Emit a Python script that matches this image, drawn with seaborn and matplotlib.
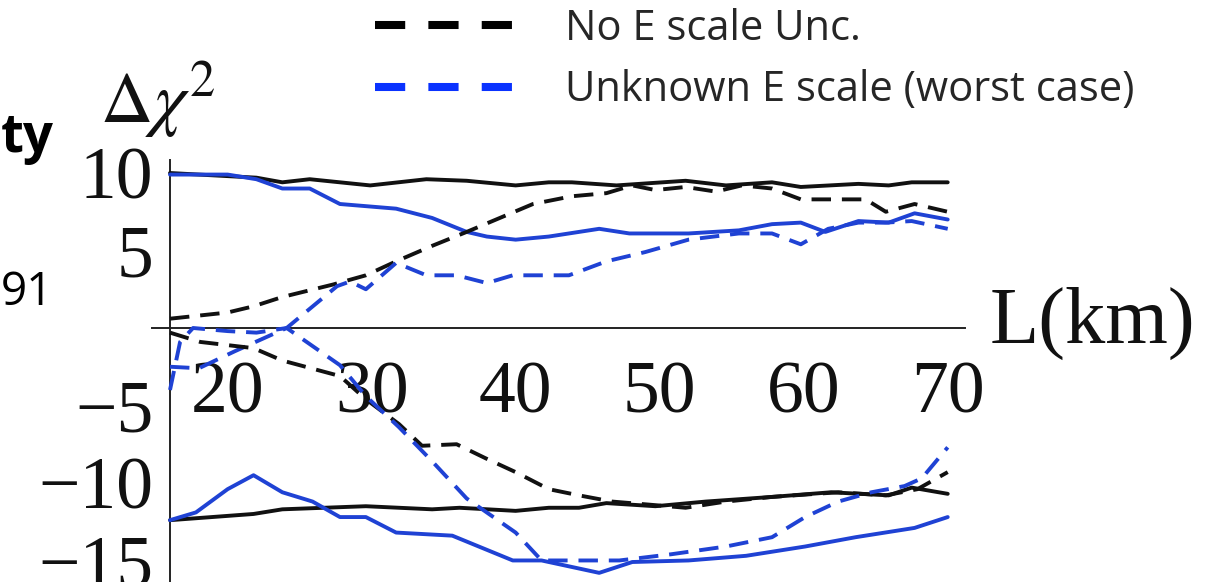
import matplotlib
matplotlib.use("Agg")
import matplotlib.pyplot as plt
from matplotlib.lines import Line2D
from matplotlib.ticker import MultipleLocator, FixedLocator
import seaborn as sns
import pandas as pd

# ---------------- data ----------------
L_up_black_solid = [16, 20, 22, 23.8, 25.7, 29.9, 33.8, 36.6, 40, 42.3, 43.9, 47, 51.8, 54.6, 57.8, 59.8, 63.8, 65.9, 67.5, 70]
V_up_black_solid = [10.0, 9.8, 9.7, 9.4, 9.6, 9.2, 9.6, 9.5, 9.2, 9.4, 9.4, 9.2, 9.5, 9.2, 9.4, 9.1, 9.3, 9.2, 9.4, 9.4]

L_up_blue_solid = [16, 20, 22, 23.8, 25.7, 27.8, 31.7, 34.2, 36.6, 38, 40, 42.3, 45.8, 47.9, 52, 55.5, 57.8, 59.8, 61.5, 63.8, 65.9, 67.7, 70]
V_up_blue_solid = [9.9, 9.9, 9.6, 9.0, 9.0, 8.0, 7.7, 7.1, 6.2, 5.9, 5.7, 5.9, 6.4, 6.1, 6.1, 6.3, 6.7, 6.8, 6.2, 6.9, 6.8, 7.4, 7.0]

L_up_black_dash = [16, 20, 21.8, 23.8, 27.3, 29.6, 31.7, 34.2, 36.6, 38.9, 41.2, 43.9, 46.3, 48.1, 49.7, 51.8, 53.9, 55.7, 57.8, 59.8, 62.4, 64.3, 65.7, 67.7, 70]
V_up_black_dash = [0.6, 1.0, 1.4, 2.0, 2.8, 3.4, 4.3, 5.3, 6.2, 7.1, 8.0, 8.5, 8.7, 9.2, 8.9, 9.1, 8.8, 9.2, 9.0, 8.3, 8.3, 8.3, 7.5, 8.0, 7.5]

L_up_blue_dash = [16, 18, 20.5, 24.1, 27.6, 28.5, 29.6, 31.7, 33.8, 35.9, 38, 39.8, 42.3, 43.7, 46.3, 49, 52, 55.5, 57.8, 59.8, 61.7, 63.8, 65.7, 67.5, 70]
V_up_blue_dash = [-2.5, -2.6, -1.5, 0.0, 2.7, 3.0, 2.5, 4.2, 3.4, 3.4, 2.9, 3.4, 3.4, 3.4, 4.3, 4.9, 5.7, 6.1, 6.1, 5.4, 6.4, 6.8, 6.8, 6.9, 6.4]

L_lo_black_solid = [16, 21.8, 23.8, 29.6, 34.2, 36.1, 40, 42.3, 44.4, 46.3, 49.7, 53.2, 57.8, 61.9, 65.9, 67.5, 70]
V_lo_black_solid = [-12.4, -12.0, -11.7, -11.5, -11.7, -11.6, -11.8, -11.6, -11.6, -11.3, -11.5, -11.2, -10.9, -10.6, -10.8, -10.3, -10.7]

L_lo_blue_solid = [16, 17.8, 20, 21.8, 23.8, 25.9, 27.8, 29.6, 31.7, 35.6, 37.7, 39.8, 41.8, 45.8, 48.1, 52, 56, 60.1, 63.6, 67.7, 70]
V_lo_blue_solid = [-12.4, -11.9, -10.4, -9.5, -10.6, -11.2, -12.2, -12.2, -13.2, -13.4, -14.2, -15.0, -15.0, -15.8, -15.1, -15.0, -14.7, -14.1, -13.5, -12.9, -12.2]

L_lo_black_dash = [16, 18.1, 21.8, 23.8, 27.8, 29.6, 31.9, 33.5, 35.9, 37.9, 40, 42.3, 44.4, 46.7, 49.3, 51.8, 54.6, 57.8, 62.4, 65.7, 67.9, 70]
V_lo_black_dash = [-0.3, -0.9, -1.3, -2.1, -3.1, -4.6, -6.2, -7.6, -7.5, -8.4, -9.3, -10.4, -10.8, -11.2, -11.4, -11.6, -11.2, -10.9, -10.6, -10.8, -10.4, -9.3]

L_lo_blue_dash = [16, 16.7, 17.6, 20, 22, 24.1, 27.8, 29.6, 31.9, 34.2, 36.6, 40, 41.8, 47.2, 50.8, 54.6, 57.8, 60.1, 62.4, 64.7, 67, 68.2, 70]
V_lo_blue_dash = [-4.0, -0.9, 0.0, -0.2, -0.3, 0.0, -2.4, -4.4, -6.4, -8.6, -11.0, -13.2, -15.0, -15.0, -14.6, -14.1, -13.5, -12.2, -11.2, -10.6, -10.2, -9.7, -7.7]

x_major_ticks = [20, 30, 40, 50, 60, 70]
y_major_ticks = [-15, -10, -5, 5, 10]
legend_labels = ["No E scale Unc.", "Unknown E scale (worst case)"]

# ---------------- styling ----------------
sns.set_theme(style="white")
plt.rcParams["font.family"] = ["Liberation Serif", "DejaVu Serif"]
plt.rcParams["mathtext.fontset"] = "stix"
plt.rcParams["axes.unicode_minus"] = True

BLACK = "#111111"
BLUE = "#1f42d4"
DASH = (0, (5.0, 2.8))

W, H = 1232, 582
fig = plt.figure(figsize=(W / 100, H / 100), dpi=100)
fig.patch.set_facecolor("white")

ax_left, ax_right, ax_top = 152, 965, 160
ax = fig.add_axes([ax_left / W, 0, (ax_right - ax_left) / W, (H - ax_top) / H])
ax.set_facecolor("none")

series = [
    (L_up_black_solid, V_up_black_solid, BLACK, "-"),
    (L_up_blue_solid, V_up_blue_solid, BLUE, "-"),
    (L_up_black_dash, V_up_black_dash, BLACK, DASH),
    (L_up_blue_dash, V_up_blue_dash, BLUE, DASH),
    (L_lo_black_solid, V_lo_black_solid, BLACK, "-"),
    (L_lo_blue_solid, V_lo_blue_solid, BLUE, "-"),
    (L_lo_black_dash, V_lo_black_dash, BLACK, DASH),
    (L_lo_blue_dash, V_lo_blue_dash, BLUE, DASH),
]
for Ls, Vs, col, ls in series:
    df = pd.DataFrame({"L": Ls, "dchi2": Vs})
    sns.lineplot(data=df, x="L", y="dchi2", color=col, linestyle=ls,
                 linewidth=2.8, estimator=None, sort=False, ax=ax,
                 legend=False, zorder=3)

# axes limits: y=0 near pixel 328, 15.5 px per unit
Y_LO, Y_HI = -16.39, 10.84
ax.set_xlim(14.75, 71.2)
ax.set_ylim(Y_LO, Y_HI)

# Mathematica-like axes through the origin (16, 0)
for s in ["top", "right"]:
    ax.spines[s].set_visible(False)
ax.spines["left"].set_position(("data", 16))
ax.spines["bottom"].set_position(("data", 0))
for s in ["left", "bottom"]:
    ax.spines[s].set_color("#222222")
    ax.spines[s].set_linewidth(1.4)
ax.set_axisbelow(True)

ax.xaxis.set_major_locator(FixedLocator(x_major_ticks))
ax.xaxis.set_minor_locator(MultipleLocator(2))
ax.yaxis.set_major_locator(FixedLocator(y_major_ticks))
ax.yaxis.set_minor_locator(MultipleLocator(1))
ax.tick_params(axis="both", which="both", direction="in", color="#222222",
               width=1.2, labelsize=53, labelcolor="#111111")
ax.tick_params(axis="both", which="major", length=7)
ax.tick_params(axis="both", which="minor", length=4)
ax.tick_params(axis="x", which="major", pad=24)
ax.tick_params(axis="y", which="major", pad=12)

ax.set_xlabel("L(km)", fontsize=58, color="#111111", ha="left", va="center")
ax.xaxis.set_label_coords((990 - ax_left) / (ax_right - ax_left), -Y_LO / (Y_HI - Y_LO) + 0.01)
ax.set_ylabel(r"$\Delta\chi^2$", fontsize=52, color="#111111", rotation=0,
              ha="left", va="baseline")
ax.yaxis.set_label_coords((100 - ax_left) / (ax_right - ax_left), (H - 122) / (H - ax_top))

# legend (slide text)
handles = [
    Line2D([], [], color="#000000", linewidth=5.8, linestyle=(0, (3.75, 2.875)), dash_capstyle="butt"),
    Line2D([], [], color="#0a32ff", linewidth=5.8, linestyle=(0, (3.75, 2.875)), dash_capstyle="butt"),
]
fig.legend(handles, legend_labels, loc="upper left", bbox_to_anchor=(375 / W, 1 - 8 / H),
           frameon=False, borderpad=0, borderaxespad=0, handlelength=3.29,
           handletextpad=1.27, labelspacing=0.46,
           prop={"family": ["Open Sans", "DejaVu Sans"], "size": 30})

# slide text fragments at the left edge
fig.text(0.001, 1 - 152 / H, "ty", fontsize=38, fontweight="bold",
         family=["Open Sans", "DejaVu Sans"], color="black", ha="left", va="baseline")
fig.text(0.001, 1 - 305 / H, "91", fontsize=33,
         family=["Open Sans", "DejaVu Sans"], color="black", ha="left", va="baseline")

fig.savefig("out.png", dpi=100, facecolor="white")
